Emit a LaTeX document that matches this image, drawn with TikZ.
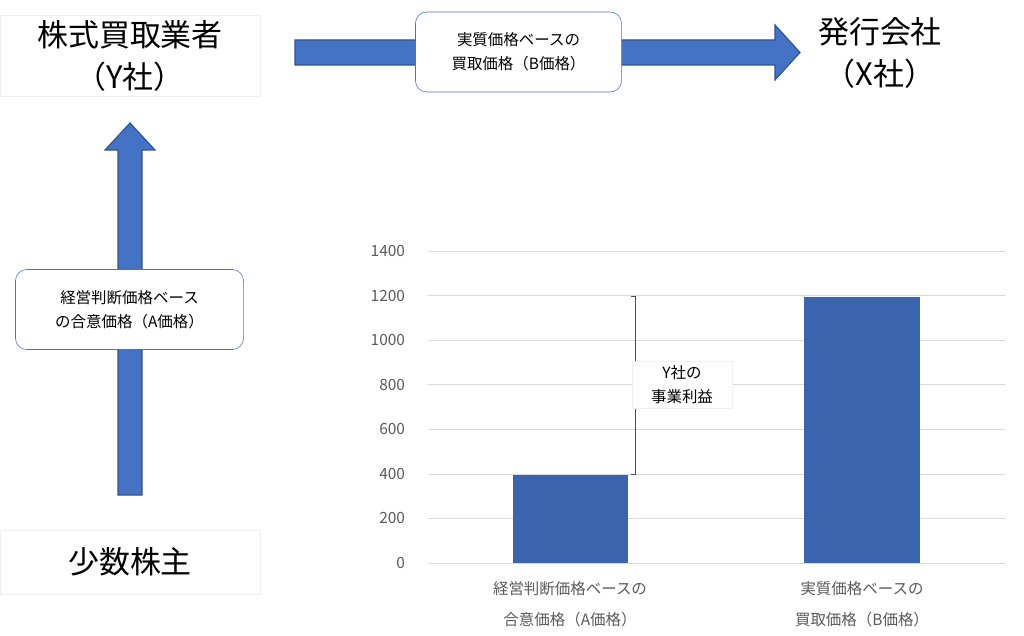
\documentclass[tikz,border=0pt]{standalone}
\usepackage{fontspec}
\setmainfont{Noto Sans CJK JP}
\usetikzlibrary{shapes.arrows, positioning, calc}
\definecolor{arrowblue}{HTML}{4472C4}
\definecolor{arrowedge}{HTML}{2F528F}
\definecolor{barblue}{HTML}{3A65AE}
\definecolor{gridgray}{HTML}{D9D9D9}
\definecolor{ticktext}{HTML}{595959}

\begin{document}
\begin{tikzpicture}[
            x=0.025cm, y=-0.025cm,
            party/.style={
				align=center,
				font=\fontsize{22}{30}\selectfont,
				draw=gray!12,
				minimum width=6.5cm,
				minimum height=1.6cm
			},
            pricebox/.style={
				rectangle,
				rounded corners=8pt,
				draw=arrowblue,
				fill=white,
				align=center,
				font=\fontsize{11}{17}\selectfont
			},
            bigarrow/.style={
				fill=arrowblue,
				draw=arrowedge,
				thick
			},
            bar/.style={
				fill=barblue,
				draw=none
			},
            tick/.style={
				anchor=east,
				text=ticktext,
				font=\fontsize{11}{13}\selectfont
			},
            catlabel/.style={
				align=center,
				text=ticktext,
				font=\fontsize{11}{22}\selectfont
			}
        ]
        \useasboundingbox (0,0) rectangle (1024,636);

        % parties
        \node (buyer) [party] at (130,56) {株式買取業者\\（Y社）};
        \node (issuer) [party, draw=none, minimum width=4.5cm] at (880,53) {発行会社\\（X社）};
        \node (minor) [party, minimum height=1.6cm] at (130,562) {少数株主};

        % arrows
        \draw [bigarrow] (295,40) -- (775,40) -- (775,25) -- (800,52.5) -- (775,80) -- (775,65) -- (295,65) -- cycle;
        \draw [bigarrow] (118,495) -- (118,150) -- (105,150) -- (130,123) -- (155,150) -- (142,150) -- (142,495) -- cycle;

        \node (bprice) [pricebox, minimum width=5.15cm, minimum height=2cm] at (518.5,52) {実質価格ベースの\\買取価格（B価格）};
        \node (aprice) [pricebox, minimum width=5.7cm, minimum height=2cm] at (129.5,309.5) {経営判断価格ベース\\の合意価格（A価格）};

        % chart
        \foreach \v [count=\i from 0] in {0,200,...,1400} {
            \draw [gridgray] (428,{563-\i*44.57}) -- (1005,{563-\i*44.57});
            \node [tick] at (410,{563-\i*44.57}) {\v};
        }
        \fill [bar] (513,563) rectangle (628,474.7);
        \fill [bar] (804,563) rectangle (920,296.6);

        \node (acat) [catlabel] at (570,604) {経営判断価格ベースの\\合意価格（A価格）};
        \node (bcat) [catlabel] at (862,604) {実質価格ベースの\\買取価格（B価格）};

        % brace
        \coordinate (btop) at (635,296.6);
        \coordinate (bbot) at (635,474.7);
        \draw [black!70, thin] ($(btop)+(-4,0)$) -- (btop) -- (bbot) -- ($(bbot)+(-4,0)$);
        \draw [black!70, thin] (635,385.6) -- (640,385.6);
        \node (profit) [draw=gray!12, fill=white, align=center, minimum width=2.5cm, minimum height=1.15cm,
            font=\fontsize{11}{17}\selectfont] at (682,385) {Y社の\\事業利益};
\end{tikzpicture}
\end{document}
